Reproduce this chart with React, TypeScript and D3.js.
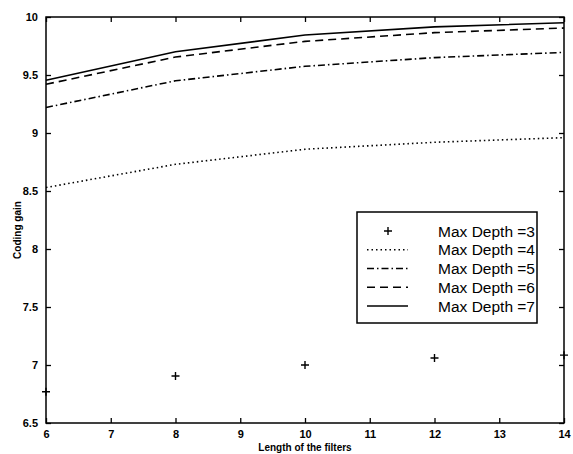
import React, { useEffect, useRef } from 'react';
import * as d3 from 'd3';

// filter lengths on the x axis
const filterLengths = [6, 8, 10, 12, 14];

// coding gain per max depth
const depth3 = [6.77, 6.905, 7.0, 7.06, 7.085];
const depth4 = [8.53, 8.73, 8.86, 8.92, 8.96];
const depth5 = [9.22, 9.45, 9.575, 9.65, 9.695];
const depth6 = [9.42, 9.655, 9.79, 9.865, 9.905];
const depth7 = [9.455, 9.70, 9.845, 9.915, 9.95];

const xTicks = [6, 7, 8, 9, 10, 11, 12, 13, 14];
const yTicks = [6.5, 7, 7.5, 8, 8.5, 9, 9.5, 10];
const legendLabels = ['Max Depth =3', 'Max Depth =4', 'Max Depth =5', 'Max Depth =6', 'Max Depth =7'];

const App = () => {
    const ref = useRef<SVGSVGElement | null>(null);

    useEffect(() => {
        const W = 573;
        const H = 454;
        const m = { top: 17, right: 9, bottom: 31, left: 46 };
        const svg = d3.select(ref.current);
        svg.selectAll('*').remove();

        const x = d3.scaleLinear().domain([6, 14]).range([m.left, W - m.right]);
        const y = d3.scaleLinear().domain([6.5, 10]).range([H - m.bottom, m.top]);

        const font = '"Liberation Sans", Arial, sans-serif';
        const tickLen = 5;

        // box
        svg.append('rect')
            .attr('x', x(6)).attr('y', y(10))
            .attr('width', x(14) - x(6)).attr('height', y(6.5) - y(10))
            .attr('fill', 'none').attr('stroke', '#000').attr('stroke-width', 1.5);

        // inward ticks on all sides
        const bottom = svg.append('g').attr('transform', `translate(0,${y(6.5)})`)
            .call(d3.axisBottom(x).tickValues(xTicks).tickSize(-tickLen).tickPadding(2 + tickLen).tickFormat(d3.format('d')));
        const top = svg.append('g').attr('transform', `translate(0,${y(10)})`)
            .call(d3.axisTop(x).tickValues(xTicks).tickSize(-tickLen).tickFormat(() => ''));
        const left = svg.append('g').attr('transform', `translate(${x(6)},0)`)
            .call(d3.axisLeft(y).tickValues(yTicks).tickSize(-tickLen).tickPadding(3 + tickLen).tickFormat(d3.format('')));
        const right = svg.append('g').attr('transform', `translate(${x(14)},0)`)
            .call(d3.axisRight(y).tickValues(yTicks).tickSize(-tickLen).tickFormat(() => ''));

        [bottom, top, left, right].forEach((g) => {
            g.select('.domain').remove();
            g.selectAll('line').attr('stroke', '#000').attr('stroke-width', 1.3);
            g.selectAll('text')
                .attr('fill', '#000')
                .style('font-family', font)
                .style('font-size', '11px')
                .style('font-weight', 'bold');
        });

        // axis titles
        svg.append('text')
            .attr('x', (x(6) + x(14)) / 2).attr('y', 451)
            .attr('text-anchor', 'middle')
            .style('font-family', font).style('font-size', '10px').style('font-weight', 'bold')
            .text('Length of the filters');
        svg.append('text')
            .attr('transform', `translate(21,${(y(6.5) + y(10)) / 2 + 10}) rotate(-90)`)
            .attr('text-anchor', 'middle')
            .style('font-family', font).style('font-size', '10px').style('font-weight', 'bold')
            .text('Coding gain');

        const line = d3.line<number>()
            .x((_, i) => x(filterLengths[i]))
            .y((d) => y(d));

        const styles = [
            { data: depth4, dash: '1.5,3' },
            { data: depth5, dash: '7,3,1.5,3' },
            { data: depth6, dash: '8,5' },
            { data: depth7, dash: null as string | null },
        ];

        const plot = svg.append('g');
        styles.forEach((s) => {
            plot.append('path')
                .datum(s.data)
                .attr('d', line)
                .attr('fill', 'none')
                .attr('stroke', '#000')
                .attr('stroke-width', 1.6)
                .attr('stroke-dasharray', s.dash);
        });

        const plus = (g: d3.Selection<SVGGElement, unknown, null, undefined>, cx: number, cy: number) => {
            g.append('path')
                .attr('d', `M${cx - 4},${cy}H${cx + 4}M${cx},${cy - 4}V${cy + 4}`)
                .attr('stroke', '#000')
                .attr('stroke-width', 1.4);
        };
        const marks = svg.append('g');
        depth3.forEach((v, i) => plus(marks, x(filterLengths[i]), y(v)));

        // legend
        const lg = svg.append('g');
        const lx0 = 357;
        const lx1 = 537;
        const ly0 = 212;
        const ly1 = 323;
        lg.append('rect')
            .attr('x', lx0).attr('y', ly0)
            .attr('width', lx1 - lx0).attr('height', ly1 - ly0)
            .attr('fill', '#fff').attr('stroke', '#000').attr('stroke-width', 1.5);

        const rowY = d3.scaleLinear().domain([0, 4]).range([231, 306]);
        const dashes = [null, '1.5,3', '7,3,1.5,3', '8,5', null];
        legendLabels.forEach((label, i) => {
            const yy = rowY(i);
            if (i === 0) {
                plus(lg, 388, yy);
            } else {
                lg.append('line')
                    .attr('x1', 367).attr('x2', 408)
                    .attr('y1', yy).attr('y2', yy)
                    .attr('stroke', '#000').attr('stroke-width', 1.5)
                    .attr('stroke-dasharray', dashes[i]);
            }
            lg.append('text')
                .attr('x', 535).attr('y', yy + 5.5)
                .attr('text-anchor', 'end')
                .style('font-family', font).style('font-size', '15.5px')
                .text(label);
        });
    }, []);

    return (
        <svg
            ref={ref}
            width={573}
            height={454}
            style={{ position: 'absolute', left: 0, top: 0, background: '#fff' }}
        />
    );
};

export default App;
